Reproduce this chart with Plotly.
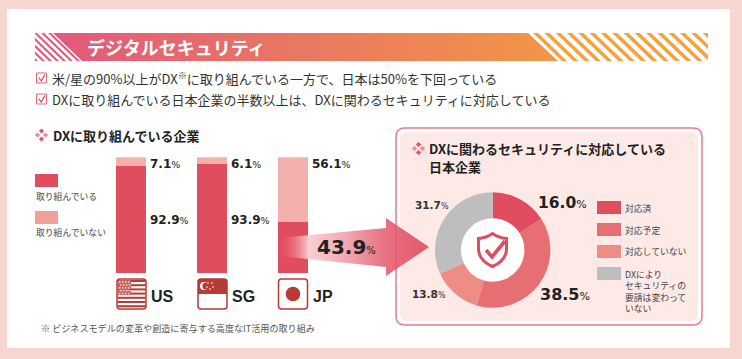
import plotly.graph_objects as go

countries = ["US", "SG", "JP"]
engaged = [92.9, 93.9, 43.9]
not_engaged = [7.1, 6.1, 56.1]
bar_names = ["取り組んでいる", "取り組んでいない"]
donut_labels = ["対応済", "対応予定", "対応していない", "DXにより<br>セキュリティの<br>要請は変わって<br>いない"]
donut_values = [16.0, 38.5, 13.8, 31.7]

W, H = 742, 359
JP = "Noto Sans CJK JP"
NUM = "DejaVu Sans"
RED, LIGHT = "#E04D5F", "#F4B0AC"
DONUT_COLORS = ["#E04D5F", "#E56F72", "#EE8D86", "#BEBEBE"]
INK = "#222222"

fx = lambda x: x / W
fy = lambda y: 1 - y / H
pt = lambda x, y: f"{fx(x):.5f},{fy(y):.5f}"

shapes, annos = [], []


def add_path(d, fill=None, line=None, lw=0, layer="below"):
    shapes.append(dict(type="path", xref="paper", yref="paper", path=d, fillcolor=fill or "rgba(0,0,0,0)",
                       line=dict(color=line or "rgba(0,0,0,0)", width=lw), layer=layer))


def poly(points, **k):
    d = "M" + " L".join(pt(*p) for p in points) + " Z"
    add_path(d, **k)


def rect(x0, y0, x1, y1, fill=None, line=None, lw=0, layer="below"):
    poly([(x0, y0), (x1, y0), (x1, y1), (x0, y1)], fill=fill, line=line, lw=lw, layer=layer)


def rrect(x0, y0, x1, y1, r, fill=None, line=None, lw=0, layer="below"):
    d = (f"M{pt(x0 + r, y0)} L{pt(x1 - r, y0)} Q{pt(x1, y0)} {pt(x1, y0 + r)} L{pt(x1, y1 - r)} "
         f"Q{pt(x1, y1)} {pt(x1 - r, y1)} L{pt(x0 + r, y1)} Q{pt(x0, y1)} {pt(x0, y1 - r)} "
         f"L{pt(x0, y0 + r)} Q{pt(x0, y0)} {pt(x0 + r, y0)} Z")
    add_path(d, fill=fill, line=line, lw=lw, layer=layer)


def circle(cx, cy, r, fill, layer="below"):
    shapes.append(dict(type="circle", xref="paper", yref="paper", x0=fx(cx - r), x1=fx(cx + r),
                       y0=fy(cy + r), y1=fy(cy - r), fillcolor=fill, line=dict(width=0), layer=layer))


def text(x, y, s, size, color=INK, font=JP, anchor="left", bold=False):
    annos.append(dict(x=fx(x), y=fy(y), xref="paper", yref="paper", text=f"<b>{s}</b>" if bold else s,
                      showarrow=False, xanchor=anchor, yanchor="middle", align="left", borderpad=0,
                      font=dict(family=font, size=size, color=color)))


def clip(points, xmin, xmax):
    def half(pts, inside, cut):
        out = []
        for i, a in enumerate(pts):
            b = pts[(i + 1) % len(pts)]
            if inside(a):
                out.append(a)
            if inside(a) != inside(b):
                t = (cut - a[0]) / (b[0] - a[0])
                out.append((cut, a[1] + t * (b[1] - a[1])))
        return out
    p = half(points, lambda q: q[0] >= xmin, xmin)
    return half(p, lambda q: q[0] <= xmax, xmax) if p else p


def diamond_icon(cx, cy):
    for dx, dy, c in [(0, -4, "#E8506A"), (4, 0, "#F08A96"), (0, 4, "#E8506A"), (-4, 0, "#F08A96")]:
        s = 2.6
        poly([(cx + dx, cy + dy - s), (cx + dx + s, cy + dy), (cx + dx, cy + dy + s), (cx + dx - s, cy + dy)], fill=c)


# page and panels
rect(0, 0, W, H, fill="#F6D6CF")
rect(7, 9, 730, 348, fill="#FFFFFF")
rrect(396, 128, 702, 325, 9, fill="#FFFFFF", line="#E87C8A", lw=1.5)
rrect(400, 132, 698, 321, 7, fill="#FDE9E6")

# header stripes
SL = 29
x = 35 - SL
while x < 50:
    p = clip([(x, 33), (x + 3, 33), (x + 3 + SL, 61), (x + SL, 61)], 35, 84)
    if p:
        poly(p, fill="#E3597B")
    x += 7
x = 533
while x < 708:
    p = clip([(x, 33), (x + 5, 33), (x + 5 + SL, 61), (x + SL, 61)], 520, 708)
    if p:
        poly(p, fill="#F5A23E")
    x += 11.3

# bullets
for yy in (78, 99):
    rect(36.5, yy - 5, 46.5, yy + 5, fill="#FFFFFF", line="#E2697A", lw=1)
    add_path(f"M{pt(38.8, yy - 0.5)} L{pt(41.2, yy + 3)} L{pt(45, yy - 3.5)}", line="#E04D5F", lw=1.3)
text(51, 78, "米/星の90%以上がDX<sup>※</sup>に取り組んでいる一方で、日本は50%を下回っている", 13, "#333333")
text(51, 99, "DXに取り組んでいる日本企業の半数以上は、DXに関わるセキュリティに対応している", 13, "#333333")
text(86, 47, "デジタルセキュリティ", 18, "#FFFFFF", bold=True)

# left part
diamond_icon(41.5, 135)
text(52, 135, "DXに取り組んでいる企業", 13, INK, bold=True)
rect(35, 174, 58, 187, fill=RED)
text(35, 196, bar_names[0], 8.8, "#444444")
rect(35, 211, 58, 224, fill="#F2A09C")
text(35, 232, bar_names[1], 8.8, "#444444")


def pct(v, psize):
    return f"<b>{v:.1f}</b><span style='font-size:{psize}px'>%</span>"


for i, c in enumerate(countries):
    bx = 116 + 81 * i
    text(bx + 33, 164, pct(not_engaged[i], 9.5), 12, INK, NUM)
    if c != "JP":
        text(bx + 33, 220, pct(engaged[i], 9.5), 12, INK, NUM)
    text(bx + 34, 296, c, 16, INK, "Liberation Sans", bold=True)

# flags
FL = "#B83A35"
# US
rrect(117, 279, 146, 309, 3, fill="#FFFFFF", layer="above")
for k in range(7):
    rect(117.5, 280 + k * 4.2, 145.5, 282 + k * 4.2, fill=FL, layer="above")
rect(118, 280, 131, 295, fill="#C9605A", layer="above")
for r_ in range(5):
    for q in range(4):
        circle(119.6 + q * 3 + (r_ % 2), 282 + r_ * 2.9, 0.9, "#F3D6D3", layer="above")
rrect(117, 279, 146, 309, 3, line=FL, lw=1.5, layer="above")
# SG
rrect(198, 279, 227, 309, 3, fill="#FFFFFF", layer="above")
rrect(198, 279, 227, 294, 3, fill=FL, layer="above")
rect(198, 288, 227, 294, fill=FL, layer="above")
circle(204, 286, 4, "#FFFFFF", layer="above")
circle(206, 286, 3.6, FL, layer="above")
for a, b in [(208, 283), (212, 283), (207, 287), (210, 289), (213, 287)]:
    circle(a, b, 0.8, "#FFFFFF", layer="above")
rrect(198, 279, 227, 309, 3, line=FL, lw=1.5, layer="above")
# JP
rrect(278.5, 279, 307.5, 309, 3, fill="#FFFFFF", line=FL, lw=1.5, layer="above")
circle(293, 294, 7.3, FL, layer="above")

text(40, 328, "※ ビジネスモデルの変革や創造に寄与する高度なIT活用の取り組み", 9.1, "#555555")

# right part
diamond_icon(418.5, 148.5)
text(428, 149, "DXに関わるセキュリティに対応している", 13, INK, bold=True)
text(428, 166, "日本企業", 13, INK, bold=True)
circle(492.7, 250, 32, "#FFFFFF")

text(537, 203, pct(donut_values[0], 11), 15.5, INK, NUM)
text(539, 294, pct(donut_values[1], 11), 16, INK, NUM)
text(413.5, 205, pct(donut_values[3], 8), 10.5, "#333333", NUM)
text(411, 294, pct(donut_values[2], 8), 10.5, "#333333", NUM)

for sw, c, lab in zip([201, 223, 245, 267], DONUT_COLORS, donut_labels):
    rect(597, sw, 621, sw + 13, fill=c)
    n = lab.count("<br>")
    text(624, sw + 7 + n * 11.44 / 2, lab, 8.8, "#444444")

# shield
S = "#E04D5F"
add_path(f"M{pt(492.5, 233.5)} Q{pt(499, 238)} {pt(506.5, 238.5)} L{pt(506.5, 250)} Q{pt(505.5, 261)} {pt(492.5, 266.5)} "
         f"Q{pt(479.5, 261)} {pt(478.5, 250)} L{pt(478.5, 238.5)} Q{pt(486, 238)} {pt(492.5, 233.5)} Z",
         line=S, lw=3, layer="above")
add_path(f"M{pt(486, 250)} L{pt(492, 257)} L{pt(505, 241)}", line=S, lw=3.6, layer="above")

# 43.9 callout
text(316, 247, f"<b>{engaged[2]:.1f}</b><span style='font-size:10px'>%</span>", 20, INK, NUM)

fig = go.Figure()
fig.add_bar(x=countries, y=engaged, name=bar_names[0], marker=dict(color=RED, line=dict(width=0)),
            showlegend=False, hoverinfo="skip")
fig.add_bar(x=countries, y=not_engaged, name=bar_names[1], marker=dict(color=LIGHT, line=dict(width=0)),
            showlegend=False, hoverinfo="skip")

# gradient decorations on a pixel-scaled overlay
fig.add_scatter(x=[53, 528, 558, 82, 53], y=[33, 33, 61, 61, 33], xaxis="x2", yaxis="y2", mode="lines",
                line=dict(width=0), fill="toself", showlegend=False, hoverinfo="skip",
                fillgradient=dict(type="horizontal", start=53, stop=558,
                                  colorscale=[[0, "#E2597C"], [1, "#F29646"]]))
fig.add_scatter(x=[278, 386, 386, 429, 386, 386, 278, 278], y=[238, 228, 218, 247, 276, 267, 256, 238],
                xaxis="x2", yaxis="y2", mode="lines", line=dict(width=0), fill="toself", showlegend=False,
                hoverinfo="skip",
                fillgradient=dict(type="horizontal", start=278, stop=429,
                                  colorscale=[[0, "rgba(232,90,110,0)"], [0.1, "rgba(240,130,145,0.55)"],
                                              [0.2, "rgba(250,205,208,0.95)"], [0.45, "rgba(240,165,175,0.95)"],
                                              [0.72, "rgba(228,95,115,0.9)"], [1, "rgba(224,77,95,0.92)"]]))

fig.add_pie(values=donut_values, labels=[l.replace("<br>", "") for l in donut_labels], sort=False,
            direction="clockwise", rotation=0, hole=0.55, textinfo="none", hoverinfo="skip",
            marker=dict(colors=DONUT_COLORS, line=dict(width=0)), showlegend=False,
            domain=dict(x=[fx(492.7 - 57.7), fx(492.7 + 57.7)], y=[fy(307.7), fy(192.3)]))

fig.update_layout(
    width=W, height=H, margin=dict(l=0, r=0, t=0, b=0), barmode="stack", bargap=1 - 30 / 81,
    paper_bgcolor="#F6D6CF", plot_bgcolor="rgba(0,0,0,0)", shapes=shapes, annotations=annos,
    xaxis=dict(domain=[fx(90.5), fx(333.5)], range=[-0.5, 2.5], visible=False, fixedrange=True),
    yaxis=dict(domain=[fy(273.3), fy(157.3)], range=[0, 100], visible=False, fixedrange=True),
    xaxis2=dict(domain=[0, 1], range=[0, W], visible=False, anchor="y2", fixedrange=True),
    yaxis2=dict(domain=[0, 1], range=[H, 0], visible=False, anchor="x2", fixedrange=True),
    font=dict(family=JP),
)
fig.write_html("out.html", config={"displayModeBar": False},
               post_script="document.body.style.margin='0';document.documentElement.style.overflow='hidden';")
